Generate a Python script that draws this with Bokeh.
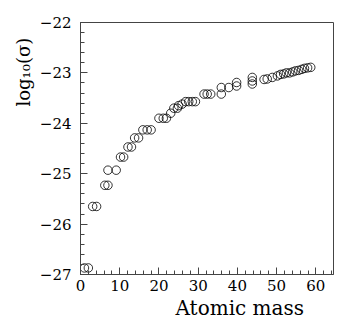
from bokeh.plotting import figure
from bokeh.models import FixedTicker, Title, CustomJSTickFormatter, Range1d
from bokeh.embed import file_html
from bokeh.resources import INLINE

atomic_mass = [1, 2, 3.1, 4.1, 6.2, 7.0, 7.0, 9.1, 10.2, 11.0, 12.1, 13.0,
               13.8, 14.8, 15.9, 17.0, 18.0, 20.0, 21.1, 21.9, 23.0, 23.8,
               24.7, 25.0, 25.9, 26.8, 27.6, 28.5, 29.3, 31.5, 32.3, 33.2,
               35.9, 35.9, 37.8, 39.8, 39.8, 43.8, 43.8, 43.8, 46.8, 47.6,
               48.9, 50.2, 51.0, 51.8, 52.5, 53.3, 54.1, 54.8, 55.6, 56.4,
               57.1, 57.9, 58.7]
log_sigma = [-26.87, -26.87, -25.65, -25.65, -25.23, -25.23, -24.93, -24.93,
             -24.67, -24.67, -24.47, -24.47, -24.29, -24.29, -24.13, -24.13,
             -24.13, -23.90, -23.90, -23.90, -23.80, -23.70, -23.70, -23.65,
             -23.62, -23.57, -23.57, -23.57, -23.57, -23.42, -23.42, -23.42,
             -23.42, -23.29, -23.29, -23.26, -23.19, -23.09, -23.16, -23.22,
             -23.13, -23.12, -23.09, -23.06, -23.03, -23.02, -23.00, -23.00,
             -22.98, -22.96, -22.95, -22.93, -22.91, -22.90, -22.89]

x_ticks = [0, 10, 20, 30, 40, 50, 60]
x_minor = [i * 2 for i in range(33)]
y_ticks = [-27, -26, -25, -24, -23, -22]
y_minor = [round(-27 + 0.2 * i, 1) for i in range(26)]

FONT = "DejaVu Serif"
FRAME = "#444444"

p = figure(width=349, height=313, frame_width=253, frame_height=252,
           x_range=Range1d(0, 64.5), y_range=Range1d(-27.0, -22.0),
           output_backend="svg", toolbar_location=None,
           min_border_left=80, min_border_top=22, min_border_right=16,
           min_border_bottom=39)
p.xgrid.visible = False
p.ygrid.visible = False
p.outline_line_color = FRAME
p.outline_line_width = 1
p.background_fill_color = "white"
p.border_fill_color = "white"

p.scatter(atomic_mass, log_sigma, marker="circle", size=8.5,
          fill_color=None, line_color="black", line_width=0.8)

fmt = CustomJSTickFormatter(code="return tick.toFixed(0).replace('-', '\u2212');")

for ax, ticks, minor in ((p.xaxis[0], x_ticks, x_minor), (p.yaxis[0], y_ticks, y_minor)):
    ax.ticker = FixedTicker(ticks=ticks, minor_ticks=minor)
    ax.formatter = fmt
    ax.major_tick_in = 7
    ax.major_tick_out = 0
    ax.minor_tick_in = 4
    ax.minor_tick_out = 0
    ax.axis_line_color = FRAME
    ax.major_tick_line_color = FRAME
    ax.minor_tick_line_color = FRAME
    ax.major_label_text_font = FONT
    ax.major_label_text_font_size = "15px"
    ax.major_label_text_color = "black"

p.xaxis.major_label_standoff = 5
p.yaxis.major_label_standoff = 9

p.add_layout(Title(text="Atomic mass", text_font=FONT, text_font_size="20px",
                   text_font_style="normal", align="left", offset=95,
                   standoff=0, text_color="black"), "below")
p.add_layout(Title(text="log\u2081\u2080(\u03c3)", text_font=FONT, text_font_size="18px",
                   text_font_style="normal", align="left", offset=168,
                   standoff=6, text_color="black"), "left")

open("out.html", "w").write(file_html(p, INLINE))
